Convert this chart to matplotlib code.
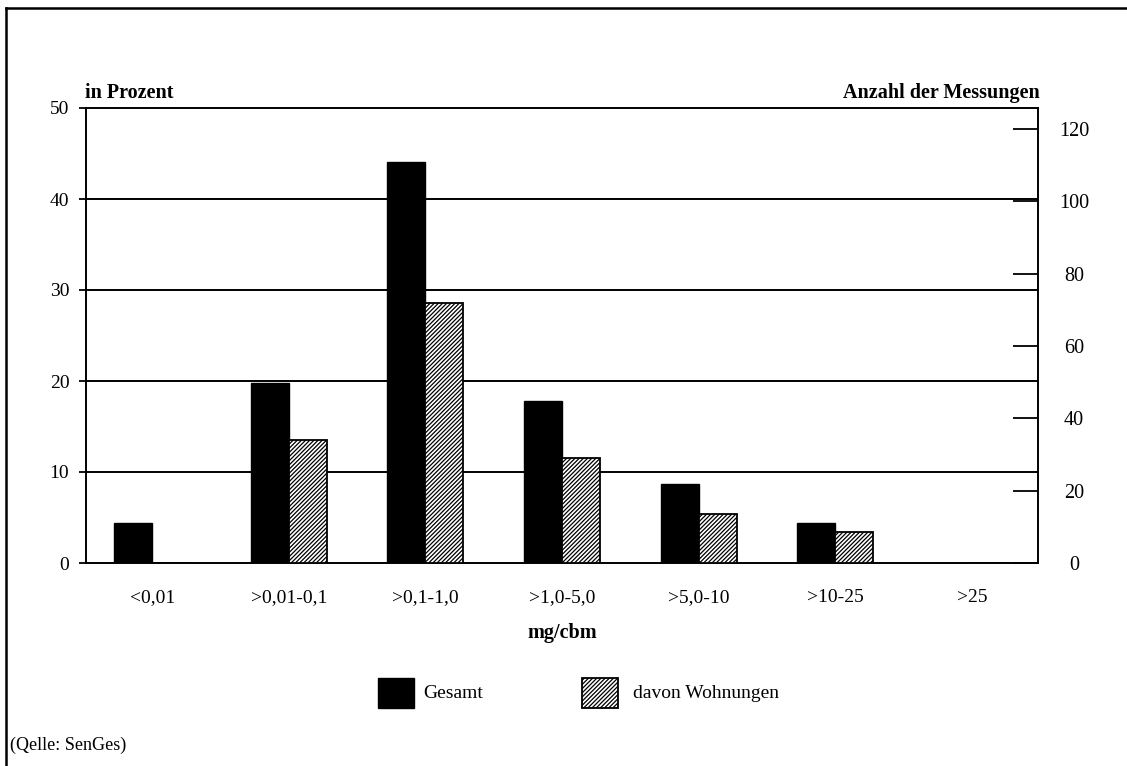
import matplotlib
matplotlib.use("Agg")
import matplotlib.pyplot as plt
import numpy as np
from matplotlib.patches import Rectangle
from matplotlib.lines import Line2D

# Concentration classes and shares of measurements (percent)
categories = ['<0,01', '>0,01-0,1', '>0,1-1,0', '>1,0-5,0', '>5,0-10', '>10-25', '>25']
gesamt = [4.4, 19.8, 44.1, 17.8, 8.7, 4.4, 0.0]
wohnungen = [0.0, 13.5, 28.6, 11.5, 5.4, 3.4, 0.0]

left_ticks = [0, 10, 20, 30, 40, 50]
right_ticks = [0, 20, 40, 60, 80, 100, 120]

plt.rcParams['font.family'] = ['Liberation Serif', 'DejaVu Serif']
plt.rcParams['hatch.linewidth'] = 0.9

HATCH = '////////'

W, H = 1127, 766
fig = plt.figure(figsize=(W / 100, H / 100), dpi=100)


def fx(x):
    return x / W


def fy(y):
    return 1 - y / H


ax = fig.add_axes([fx(86), fy(563), (1038 - 86) / W, (563 - 108) / H])

x = np.arange(len(categories))
bw = 0.278
ax.bar(x - bw, gesamt, width=bw, align='edge', color='black',
       edgecolor='black', linewidth=1.0, zorder=3)
ax.bar(x, wohnungen, width=bw, align='edge', color='white',
       edgecolor='black', hatch=HATCH, linewidth=1.3, zorder=3)

ax.set_xlim(-0.485, len(categories) - 0.515)
ax.set_ylim(0, 50)
ax.set_yticks(left_ticks)
ax.set_yticklabels([str(v) for v in left_ticks], fontsize=14)
ax.set_xticks(x)
ax.set_xticklabels(categories, fontsize=14)
ax.tick_params(axis='x', length=0, pad=19)
ax.tick_params(axis='y', direction='out', length=5, width=1.3, pad=7)

for v in left_ticks[1:-1]:
    ax.axhline(v, color='black', linewidth=1.4, zorder=1)

for s in ax.spines.values():
    s.set_linewidth(1.4)
    s.set_color('black')

# Secondary axis: number of measurements
ax2 = ax.twinx()
ax2.set_ylim(0, 120 * 455 / 434)
ax2.set_yticks(right_ticks)
ax2.set_yticklabels([str(v) for v in right_ticks], fontsize=14.5)
ax2.tick_params(axis='y', direction='in', length=18, width=1.3, pad=26)
for t in ax2.get_yticklabels():
    t.set_horizontalalignment('center')
for s in ax2.spines.values():
    s.set_visible(False)

# Axis titles
fig.text(fx(85), fy(98), 'in Prozent', fontsize=14.5, fontweight='bold',
         ha='left', va='baseline')
fig.text(fx(1040), fy(98), 'Anzahl der Messungen', fontsize=14.5,
         fontweight='bold', ha='right', va='baseline')
fig.text(fx(562), fy(633), 'mg/cbm', fontsize=14.5, fontweight='bold',
         ha='center', va='center')

# Legend
fig.add_artist(Rectangle((fx(378), fy(708)), 36 / W, 30 / H,
                         transform=fig.transFigure, facecolor='black',
                         edgecolor='black', linewidth=1.0))
fig.text(fx(423), fy(693), 'Gesamt', fontsize=14, ha='left', va='center')
fig.add_artist(Rectangle((fx(582), fy(708)), 36 / W, 30 / H,
                         transform=fig.transFigure, facecolor='white',
                         edgecolor='black', hatch=HATCH, linewidth=1.3))
fig.text(fx(633), fy(693), 'davon Wohnungen', fontsize=14, ha='left',
         va='center')

# Source note
fig.text(fx(10), fy(745), '(Qelle: SenGes)', fontsize=13, ha='left',
         va='center')

# Outer frame
fig.add_artist(Line2D([fx(6), 1.0], [fy(8), fy(8)], transform=fig.transFigure,
                      color='black', linewidth=1.8))
fig.add_artist(Line2D([fx(6), fx(6)], [fy(8), 0.0], transform=fig.transFigure,
                      color='black', linewidth=1.8))

fig.savefig('out.png', dpi=100, facecolor='white')
